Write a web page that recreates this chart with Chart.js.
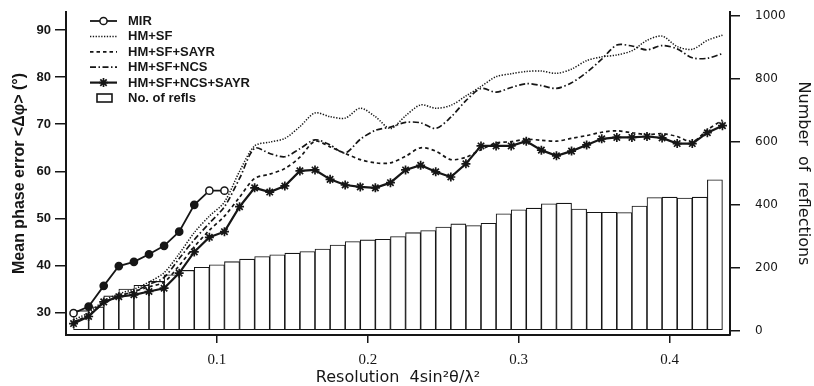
<!DOCTYPE html>
<html>
<head>
<meta charset="utf-8">
<title>Mean phase error vs resolution</title>
<script src="https://cdn.jsdelivr.net/npm/chart.js@4.4.1/dist/chart.umd.min.js"></script>
<style>
  html, body { margin: 0; padding: 0; background: #fff; }
  #wrap { position: relative; width: 814px; height: 386px; }
</style>
</head>
<body>
<div id="wrap"><canvas id="phaseChart"></canvas></div>
<script>
// ── Data ──────────────────────────────────────────────────────────────────────
// histogram bins (centre of each 0.01 shell) and number of reflections per bin
const binCentres = [0.01, 0.02, 0.03, 0.04, 0.05, 0.06, 0.07, 0.08, 0.09, 0.10,
  0.11, 0.12, 0.13, 0.14, 0.15, 0.16, 0.17, 0.18, 0.19, 0.20,
  0.21, 0.22, 0.23, 0.24, 0.25, 0.26, 0.27, 0.28, 0.29, 0.30,
  0.31, 0.32, 0.33, 0.34, 0.35, 0.36, 0.37, 0.38, 0.39, 0.40,
  0.41, 0.42, 0.43];
const reflCounts = [63, 75, 110, 132, 144, 156, 177, 191, 201, 209,
  219, 227, 235, 241, 246, 251, 259, 272, 283, 288,
  290, 299, 311, 318, 329, 339, 334, 341, 371, 384,
  389, 403, 405, 386, 376, 376, 375, 396, 423, 424,
  421, 424, 479];

// resolution where the phase errors are sampled
const sampleRes = [0.005, 0.015, 0.025, 0.035, 0.045, 0.055, 0.065, 0.075, 0.085, 0.095,
  0.105, 0.115, 0.125, 0.135, 0.145, 0.155, 0.165, 0.175, 0.185, 0.195,
  0.205, 0.215, 0.225, 0.235, 0.245, 0.255, 0.265, 0.275, 0.285, 0.295,
  0.305, 0.315, 0.325, 0.335, 0.345, 0.355, 0.365, 0.375, 0.385, 0.395,
  0.405, 0.415, 0.425, 0.435];

const mirErr = [29.9, 31.3, 35.7, 39.9, 40.8, 42.4, 44.2, 47.2, 52.9, 55.9, 55.9];
const hmSfErr = [28.5, 30, 32.5, 34, 35, 36.5, 38.5, 42.5, 47, 50.5,
  53.5, 60, 65.4, 66.2, 67.0, 69.5, 72.4, 71.6, 71.3, 73.4,
  71.6, 69.1, 71.8, 74.1, 73.4, 74.0, 76.0, 78.0, 80.1, 80.7,
  81.2, 81.3, 80.8, 81.7, 83.5, 84.3, 84.7, 85.6, 87.8, 88.7,
  86.5, 85.9, 87.8, 88.9];
const hmSfSayrErr = [28, 29.5, 32, 33.5, 34.5, 35.5, 36.5, 40, 44, 47.5,
  50.5, 54.5, 58.5, 59.4, 60.6, 63.0, 66.4, 65.2, 63.8, 62.5,
  61.8, 61.8, 63.2, 65.0, 64.3, 62.5, 63.0, 64.6, 66.0, 66.3,
  66.8, 66.6, 66.4, 67.0, 67.6, 68.3, 68.6, 68.2, 67.8, 68.0,
  67.4, 66.3, 68.8, 70.9];
const hmSfNcsErr = [28, 29.5, 32, 33.5, 34.5, 36, 37.5, 41.5, 45.5, 49,
  52.5, 58.5, 64.9, 63.8, 63.1, 64.8, 66.7, 65.6, 63.9, 66.8,
  68.7, 69.4, 70.4, 70.3, 69.1, 71.5, 75.0, 77.6, 76.8, 77.8,
  78.6, 78.2, 77.6, 78.8, 81.0, 83.8, 86.8, 86.6, 85.8, 86.7,
  86.0, 84.1, 84.0, 85.0];
const hmSfNcsSayrErr = [27.7, 29.2, 32.3, 33.4, 33.8, 34.5, 35.2, 38.4, 42.9, 46.0,
  47.2, 52.5, 56.5, 55.6, 56.9, 60.1, 60.3, 58.3, 57.1, 56.7,
  56.5, 57.6, 60.3, 61.3, 59.9, 58.8, 61.6, 65.4, 65.4, 65.4,
  66.4, 64.5, 63.3, 64.3, 65.6, 66.9, 67.2, 67.2, 67.4, 67.1,
  65.9, 65.9, 68.2, 69.7];

// tick labels
const xTicks = [0.1, 0.2, 0.3, 0.4];
const leftTicks = [30, 40, 50, 60, 70, 80, 90];
const rightTicks = [0, 200, 400, 600, 800, 1000];

// ── Styling ───────────────────────────────────────────────────────────────────
const INK = '#161616';
const SANS = '"Liberation Sans", Arial, sans-serif';

const pts = vals => vals.map((y, i) => ({ x: sampleRes[i], y }));

// keep the plot box fixed: no extra room for half-labels at the ends
function fixBox(axis, w, h) {
  if (w) axis.width = w;
  if (h) axis.height = h;
  axis.paddingTop = 0; axis.paddingBottom = 0;
  axis.paddingLeft = 0; axis.paddingRight = 0;
}

// legend drawn inside the plot, top-left
const inlineLegend = {
  id: 'inlineLegend',
  afterDatasetsDraw(chart) {
    const { ctx, chartArea } = chart;
    const x0 = chartArea.left + 24, x1 = chartArea.left + 51, tx = chartArea.left + 62;
    ctx.save();
    ctx.font = 'bold 13px ' + SANS;
    ctx.textBaseline = 'middle';
    chart.data.datasets.forEach((ds, i) => {
      const y = chartArea.top + 9 + i * 15.4;
      ctx.strokeStyle = INK;
      ctx.setLineDash([]);
      if (ds.type === 'bar') {
        ctx.lineWidth = 1.6;
        ctx.fillStyle = '#fff';
        ctx.fillRect(x0 + 7, y - 4, 15, 8);
        ctx.strokeRect(x0 + 7, y - 4, 15, 8);
      } else {
        ctx.lineWidth = ds.borderWidth;
        ctx.setLineDash(ds.borderDash || []);
        ctx.beginPath();
        ctx.moveTo(x0, y);
        ctx.lineTo(x1, y);
        ctx.stroke();
        if (ds.pointRadius > 0) {
          ctx.setLineDash([]);
          ctx.fillStyle = '#fff';
          ctx.lineWidth = ds.pointBorderWidth;
          Chart.helpers.drawPoint(ctx, {
            pointStyle: ds.pointStyle, radius: ds.pointRadius,
            borderWidth: ds.pointBorderWidth, rotation: 0
          }, (x0 + x1) / 2, y);
        }
      }
      ctx.fillStyle = INK;
      ctx.fillText(ds.label, tx, y + 0.5);
    });
    ctx.restore();
  }
};

const lineBase = {
  type: 'line', fill: false, borderColor: INK, pointRadius: 0,
  yAxisID: 'y', order: 1
};

new Chart(document.getElementById('phaseChart'), {
  type: 'bar',
  data: {
    datasets: [
      {
        ...lineBase, label: 'MIR', data: pts(mirErr),
        borderWidth: 1.8, tension: 0,
        pointStyle: 'circle', pointRadius: 3.6, pointBorderWidth: 1.5,
        pointBorderColor: INK,
        pointBackgroundColor: c => [0, 9, 10].includes(c.dataIndex) ? '#fff' : INK
      },
      {
        ...lineBase, label: 'HM+SF', data: pts(hmSfErr),
        borderWidth: 1.5, borderDash: [1.3, 1.5], tension: 0.3
      },
      {
        ...lineBase, label: 'HM+SF+SAYR', data: pts(hmSfSayrErr),
        borderWidth: 1.7, borderDash: [3.5, 3], tension: 0.3
      },
      {
        ...lineBase, label: 'HM+SF+NCS', data: pts(hmSfNcsErr),
        borderWidth: 1.7, borderDash: [6, 2.5, 1.5, 2.5], tension: 0.3
      },
      {
        ...lineBase, label: 'HM+SF+NCS+SAYR', data: pts(hmSfNcsSayrErr),
        borderWidth: 2.2, tension: 0,
        pointStyle: 'star', pointRadius: 4.5, pointBorderWidth: 1.7,
        pointBorderColor: INK, pointBackgroundColor: INK
      },
      {
        type: 'bar', label: 'No. of refls', yAxisID: 'y1', order: 5,
        data: reflCounts.map((y, i) => ({ x: binCentres[i], y })),
        backgroundColor: '#fff', borderColor: INK, borderWidth: 1.1,
        borderSkipped: false, barPercentage: 1, categoryPercentage: 1
      }
    ]
  },
  options: {
    responsive: true,
    maintainAspectRatio: false,
    animation: false,
    layout: { padding: { top: 12, left: 0, right: 0, bottom: 0 } },
    plugins: { legend: { display: false }, tooltip: { enabled: false } },
    scales: {
      x: {
        type: 'linear', position: 'bottom', min: 0, max: 0.44, offset: false,
        afterBuildTicks: axis => { axis.ticks = xTicks.map(v => ({ value: v })); },
        afterFit: axis => fixBox(axis, 0, 51),
        border: { color: INK, width: 2 },
        grid: { drawOnChartArea: false, offset: false, tickLength: 8, color: INK, lineWidth: 1.5 },
        ticks: {
          color: INK, padding: 8, maxRotation: 0,
          font: { family: '"Liberation Serif", "Times New Roman", serif', size: 15 },
          callback: v => v.toFixed(1)
        },
        title: {
          display: true, text: 'Resolution  4sin²θ/λ²', color: INK, padding: 0,
          font: { family: '"DejaVu Sans", sans-serif', size: 16, lineHeight: 1 }
        }
      },
      y: {
        type: 'linear', position: 'left', min: 25.27, max: 93.82,
        afterBuildTicks: axis => { axis.ticks = leftTicks.map(v => ({ value: v })); },
        afterFit: axis => fixBox(axis, 66, 0),
        border: { color: INK, width: 2 },
        grid: { drawOnChartArea: false, tickLength: 11, color: INK, lineWidth: 1.5 },
        ticks: { color: INK, padding: 4, font: { family: SANS, size: 13, weight: 'bold' } },
        title: {
          display: true, text: 'Mean phase error <Δφ> (°)', color: INK,
          padding: { top: 10.4 },
          font: { family: SANS, size: 16, weight: 'bold' }
        }
      },
      y1: {
        type: 'linear', position: 'right', min: -14.3, max: 1012.7,
        afterBuildTicks: axis => { axis.ticks = rightTicks.map(v => ({ value: v })); },
        afterFit: axis => fixBox(axis, 84, 0),
        border: { color: INK, width: 2 },
        grid: { drawOnChartArea: false, tickLength: 10, color: INK, lineWidth: 1.5 },
        ticks: {
          color: INK, padding: 15, callback: v => String(v),
          font: { family: '"DejaVu Sans", sans-serif', size: 12 }
        },
        title: {
          display: true, text: 'Number  of  reflections', color: INK,
          padding: { top: 1.4 },
          font: { family: '"DejaVu Sans", sans-serif', size: 16 }
        }
      }
    }
  },
  plugins: [inlineLegend]
});
</script>
</body>
</html>
